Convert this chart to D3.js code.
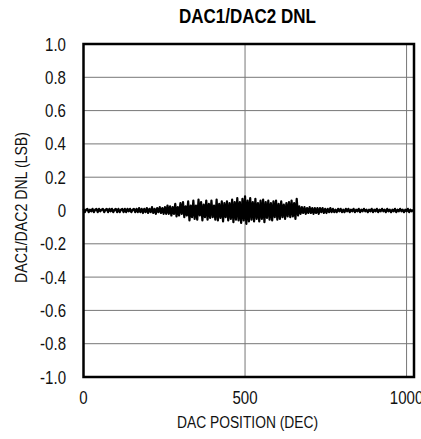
<!DOCTYPE html>
<html>
<head>
<meta charset="utf-8">
<script src="https://cdn.jsdelivr.net/npm/d3@7"></script>
<style>
  body { margin: 0; background: #fff; }
  text { font-family: "Liberation Sans", Arial, sans-serif; }
</style>
</head>
<body>
<svg id="chart" width="421" height="439"></svg>
<script>
// DNL, one value every 4 codes (0..1020)
const codeStep = 4;
const dnl = [
  0.01, -0.01, 0.005, 0.01, -0.01, 0.005, -0.005, 0.01, -0.01, 0.005, 0.01, -0.01, 0.01, -0.005, 0.005, 0.01,
  -0.01, 0.005, 0.01, -0.01, 0.01, -0.005, 0.01, -0.01, 0.005, 0.01, -0.01, 0.01, -0.01, 0.005, 0.01, -0.01,
  0.01, -0.01, 0.01, -0.005, 0.01, -0.01, 0.005, 0.01, -0.01, 0.01, -0.01, 0.015, -0.01, 0.01, -0.015, 0.01,
  -0.01, 0.015, -0.015, 0.01, -0.01, 0.02, -0.015, 0.01, -0.02, 0.015, -0.01, 0.02, -0.015, 0.015, -0.02, 0.02,
  -0.02, 0.03, -0.02, 0.025, -0.03, 0.02, -0.02, 0.04, -0.035, 0.02, -0.03, 0.045, -0.02, 0.05, -0.04, 0.025,
  -0.03, 0.055, -0.06, 0.03, -0.04, 0.06, -0.05, 0.03, -0.055, 0.065, -0.03, 0.05, -0.06, 0.035, -0.04, 0.06,
  -0.055, 0.04, -0.045, 0.06, -0.04, 0.03, -0.055, 0.065, -0.06, 0.04, -0.045, 0.055, -0.065, 0.045, -0.04, 0.055,
  -0.06, 0.045, -0.05, 0.065, -0.07, 0.05, -0.055, 0.075, -0.06, 0.05, -0.075, 0.07, -0.06, 0.085, -0.08, 0.06,
  -0.065, 0.075, -0.055, 0.05, -0.065, 0.07, -0.05, 0.045, -0.065, 0.06, -0.05, 0.065, -0.07, 0.05, -0.045, 0.06,
  -0.055, 0.045, -0.06, 0.055, -0.04, 0.06, -0.055, 0.04, -0.05, 0.055, -0.04, 0.035, -0.05, 0.045, -0.035, 0.05,
  -0.04, 0.06, -0.035, 0.045, -0.05, 0.07, -0.03, 0.025, -0.02, 0.02, -0.015, 0.02, -0.02, 0.015, -0.015, 0.02,
  -0.015, 0.015, -0.02, 0.015, -0.015, 0.015, -0.02, 0.015, -0.01, 0.015, -0.015, 0.01, -0.015, 0.01, -0.01, 0.015,
  -0.01, 0.01, -0.01, 0.005, -0.01, 0.01, -0.005, 0.01, -0.01, 0.005, -0.01, 0.01, -0.005, 0.01, -0.01, 0.005,
  -0.005, 0.01, -0.01, 0.005, -0.005, 0.01, -0.01, 0.005, -0.005, 0.01, -0.005, 0.005, -0.01, 0.005, -0.005, 0.01,
  -0.01, 0.005, -0.005, 0.01, -0.01, 0.005, -0.005, 0.01, -0.005, 0.005, -0.01, 0.01, -0.005, 0.005, -0.01, 0.005,
  -0.005, 0.01, -0.01, 0.005, -0.005, 0.01, -0.005, 0.005, -0.01, 0.005, -0.005, 0.01, -0.01, 0.005, -0.005, 0.005
];
const xTicks = [0, 500, 1000];
const yTicks = [-1.0, -0.8, -0.6, -0.4, -0.2, 0, 0.2, 0.4, 0.6, 0.8, 1.0];
const title = 'DAC1/DAC2 DNL';
const xLabel = 'DAC POSITION (DEC)';
const yLabel = 'DAC1/DAC2 DNL (LSB)';

const svg = d3.select('#chart');
const padding = { top: 44, right: 7, bottom: 62, left: 83.5 };
const width = +svg.attr('width');
const height = +svg.attr('height');
const narrow = 0.86;

const xScale = d3
  .scaleLinear()
  .domain([0, 1023])
  .range([padding.left, width - padding.right]);

const yScale = d3
  .scaleLinear()
  .domain([-1, 1])
  .range([height - padding.bottom, padding.top]);

// gridlines
svg
  .append('g')
  .selectAll('line')
  .data(xTicks.filter(d => d > 0))
  .enter()
  .append('line')
  .attr('x1', d => xScale(d))
  .attr('x2', d => xScale(d))
  .attr('y1', yScale(1))
  .attr('y2', yScale(-1))
  .attr('stroke', '#777')
  .attr('stroke-width', 1);

svg
  .append('g')
  .selectAll('line')
  .data(yTicks.filter(d => d > -1 && d < 1))
  .enter()
  .append('line')
  .attr('x1', xScale(0))
  .attr('x2', xScale(1023))
  .attr('y1', d => yScale(d))
  .attr('y2', d => yScale(d))
  .attr('stroke', '#777')
  .attr('stroke-width', 1);

// trace
const line = d3
  .line()
  .x((d, i) => xScale(i * codeStep))
  .y(d => yScale(d));

svg
  .append('path')
  .datum(dnl)
  .attr('d', line)
  .attr('fill', 'none')
  .attr('stroke', '#000')
  .attr('stroke-width', 2.2)
  .attr('stroke-linejoin', 'round');

// frame
svg
  .append('rect')
  .attr('x', xScale(0))
  .attr('y', yScale(1))
  .attr('width', xScale(1023) - xScale(0))
  .attr('height', yScale(-1) - yScale(1))
  .attr('fill', 'none')
  .attr('stroke', '#000')
  .attr('stroke-width', 2.5);

// tick labels (narrow face)
svg
  .append('g')
  .selectAll('text')
  .data(yTicks)
  .enter()
  .append('text')
  .attr('transform', d => 'translate(66,' + (yScale(d) + 6.5) + ') scale(' + narrow + ',1)')
  .style('text-anchor', 'end')
  .style('font-size', '17.5px')
  .attr('fill', '#111')
  .text(d => (d === 0 ? '0' : d.toFixed(1)));

svg
  .append('g')
  .selectAll('text')
  .data(xTicks)
  .enter()
  .append('text')
  .attr('transform', d => 'translate(' + xScale(d) + ',403.5) scale(' + narrow + ',1)')
  .style('text-anchor', 'middle')
  .style('font-size', '17.5px')
  .attr('fill', '#111')
  .text(d => d);

// titles, squeezed to the narrow face of the original
svg
  .append('text')
  .attr('x', 179)
  .attr('y', 23)
  .attr('textLength', 137)
  .attr('lengthAdjust', 'spacingAndGlyphs')
  .style('font-size', '19.5px')
  .style('font-weight', 'bold')
  .text(title);

svg
  .append('text')
  .attr('x', 177)
  .attr('y', 428)
  .attr('textLength', 141)
  .attr('lengthAdjust', 'spacingAndGlyphs')
  .style('font-size', '16px')
  .attr('fill', '#111')
  .text(xLabel);

svg
  .append('text')
  .attr('transform', 'rotate(-90)')
  .attr('x', -283)
  .attr('y', 27)
  .attr('textLength', 151)
  .attr('lengthAdjust', 'spacingAndGlyphs')
  .style('font-size', '16px')
  .attr('fill', '#111')
  .text(yLabel);
</script>
</body>
</html>
